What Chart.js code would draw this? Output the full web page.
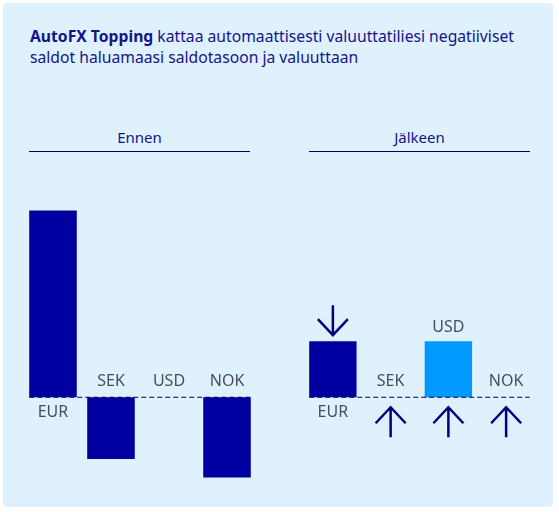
<!DOCTYPE html>
<html>
<head>
<meta charset="utf-8">
<script src="https://cdn.jsdelivr.net/npm/chart.js@4.4.1/dist/chart.umd.min.js"></script>
<style>
  body { margin: 0; background: #fff; font-family: "Noto Sans", sans-serif; }
  #panel { position: absolute; left: 3px; top: 3px; width: 550px; height: 504px; background: #dff1fd; border-radius: 4px; }
  #title { position: absolute; left: 30px; top: 26px; font-size: 15.7px; line-height: 21px; color: #14148a; }
  .head { position: absolute; top: 127px; width: 221px; text-align: center; font-size: 15px; color: #14148a;
          border-bottom: 1.5px solid #00006e; padding-bottom: 4px; }
  .wrap { position: absolute; top: 160px; height: 340px; }
</style>
</head>
<body>
<div id="panel"></div>
<div id="title"><b>AutoFX Topping</b> kattaa automaattisesti valuuttatiliesi negatiiviset<br>saldot haluamaasi saldotasoon ja valuuttaan</div>
<div class="head" style="left:29px">Ennen</div>
<div class="head" style="left:309px">Jälkeen</div>
<div class="wrap" style="left:0;width:280px"><canvas id="before"></canvas></div>
<div class="wrap" style="left:280px;width:279px"><canvas id="after"></canvas></div>
<script>
const categories = ['EUR', 'SEK', 'USD', 'NOK'];
const beforeValues = [100, -33, 0, -43];
const afterValues = [30, 0, 30, 0];
const afterArrows = ['down', 'up', 'up', 'up'];
const yMin = -55, yMax = 127;

// dashed zero line, currency labels and arrows
const deco = {
    id: 'deco',
    afterDatasetsDraw(chart, args, opts) {
        const ctx = chart.ctx;
        const bars = chart.getDatasetMeta(0).data;
        const vals = chart.data.datasets[0].data;
        const y0 = chart.scales.y.getPixelForValue(0);
        const half = bars[0].width / 2;
        ctx.save();
        ctx.strokeStyle = '#00006e';
        ctx.lineWidth = 1.2;
        ctx.setLineDash([5, 3]);
        ctx.beginPath();
        ctx.moveTo(bars[0].x - half, y0);
        ctx.lineTo(bars[bars.length - 1].x + half, y0);
        ctx.stroke();
        ctx.setLineDash([]);

        ctx.font = '16px "Noto Sans"';
        ctx.fillStyle = '#4a4e5a';
        ctx.textAlign = 'center';
        ctx.textBaseline = 'middle';
        bars.forEach((b, i) => {
            let y;
            if (opts.below.includes(categories[i])) y = y0 + 15;
            else if (vals[i] > 0) y = b.y - 14;
            else y = y0 - 16;
            ctx.fillText(categories[i], b.x, y);
        });

        ctx.strokeStyle = '#000080';
        ctx.lineWidth = 2.5;
        (opts.arrows || []).forEach((dir, i) => {
            const x = bars[i].x;
            let tip, dy;
            if (dir === 'down') { tip = bars[i].y - 6; dy = -1; }
            else { tip = y0 + 10; dy = 1; }
            ctx.beginPath();
            ctx.moveTo(x, tip);
            ctx.lineTo(x, tip + dy * 30);
            ctx.moveTo(x - 15, tip + dy * 16);
            ctx.lineTo(x, tip);
            ctx.lineTo(x + 15, tip + dy * 16);
            ctx.stroke();
        });
        ctx.restore();
    }
};

function makeChart(id, values, colors, arrows) {
    return new Chart(document.getElementById(id), {
        type: 'bar',
        data: {
            labels: categories,
            datasets: [{
                data: values,
                backgroundColor: colors,
                barPercentage: 0.82,
                categoryPercentage: 1
            }]
        },
        options: {
            responsive: true,
            maintainAspectRatio: false,
            animation: false,
            layout: { padding: { left: 24, right: 24, top: 0, bottom: 0 } },
            scales: {
                x: { display: false },
                y: { display: false, min: yMin, max: yMax }
            },
            plugins: {
                legend: { display: false },
                tooltip: { enabled: false },
                deco: { below: ['EUR'], arrows: arrows }
            }
        },
        plugins: [deco]
    });
}

makeChart('before', beforeValues, '#0000a0', []);
makeChart('after', afterValues, ['#0000a0', '#0000a0', '#0099ff', '#0000a0'], afterArrows);
</script>
</body>
</html>
